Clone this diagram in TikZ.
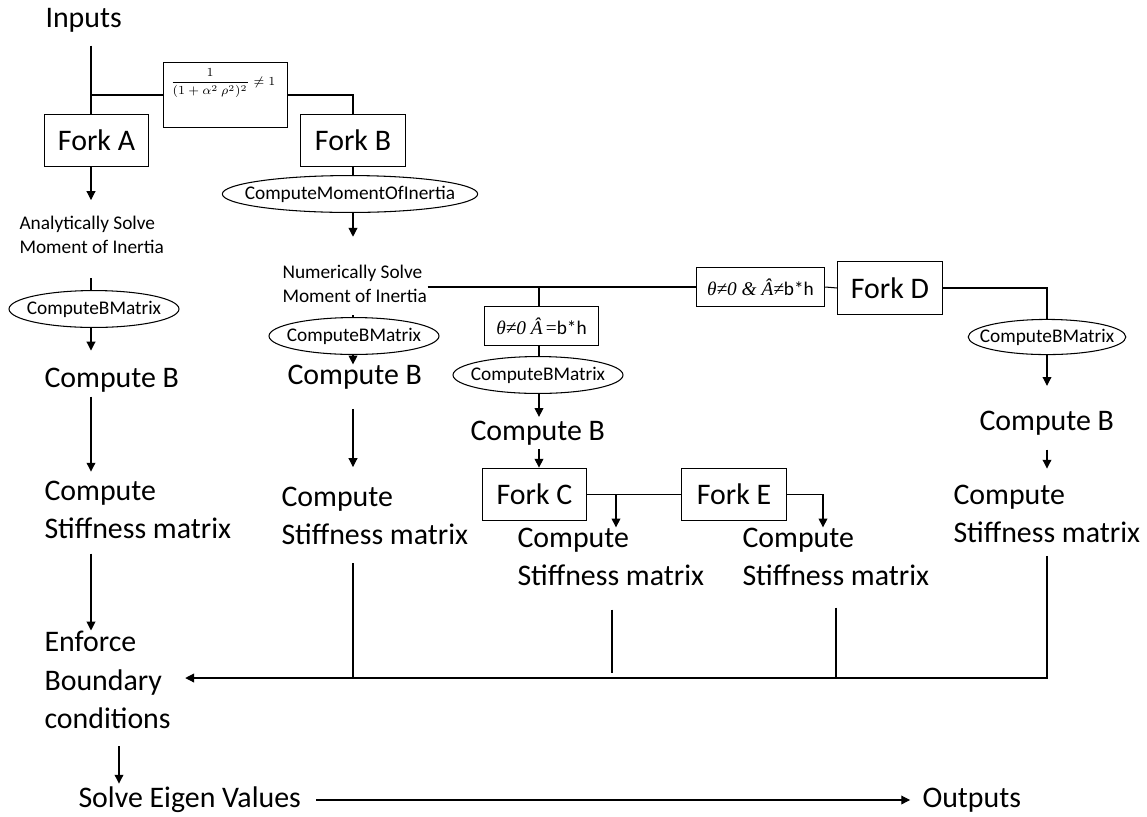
\documentclass[tikz,border=0pt]{standalone}
\usepackage{amsmath}
\usepackage{fontspec}
\setmainfont{Carlito}
\newfontfamily\condfont{Liberation Serif}
\usetikzlibrary{shapes.geometric,arrows.meta}
\tikzset{
  big/.style={font=\fontsize{17}{22}\selectfont, anchor=west, inner sep=0pt, align=left},
  small/.style={font=\fontsize{11}{13.5}\selectfont, anchor=west, inner sep=0pt, align=left},
  fork/.style={draw, font=\fontsize{17}{20}\selectfont, minimum width=59.5pt, minimum height=30pt, inner sep=0pt},
  cond/.style={draw, font=\fontsize{11}{13}\selectfont, minimum height=22.7pt, inner sep=0pt},
  call/.style={draw, ellipse, font=\fontsize{11}{13}\selectfont, minimum height=21pt, inner xsep=-4pt, inner ysep=0pt},
  arr/.style={-{Triangle[width=5pt,length=5pt]}},
}

\begin{document}
\begin{tikzpicture}[x=0.02cm,y=-0.02cm,line width=0.6pt]
\useasboundingbox (0,0) rectangle (1147,816);
\coordinate (colA) at (91,0);
\coordinate (colE) at (119,0);
\coordinate (colB) at (353,0);
\coordinate (colC) at (539,0);
\coordinate (brC) at (616,0);
\coordinate (dropC) at (612,0);
\coordinate (brE) at (823,0);
\coordinate (dropE) at (836,0);
\coordinate (colR) at (1047,0);
\coordinate (bus) at (0,678);

% top
\node[big] (inputs) at (45,20) {Inputs};
\node[cond, minimum width=70.9pt, minimum height=37.4pt] (cnd) at (225.5,95) {};
\node[inner sep=0pt, font=\fontsize{7}{8}\selectfont] (frac) at (223,83) {$\dfrac{1}{(1+\alpha^2\ \rho^2)^2}\neq 1$};
\node[fork] (forkA) at (96.5,140.5) {Fork A};
\node[fork] (forkB) at (353,140.5) {Fork B};
\draw[shorten <=7.4pt] (colA |- inputs.south) -- (colA |- forkA.north);
\draw (colA |- cnd.west) -- (cnd.west);
\draw (cnd.east) -| (forkB.north);

% fork A
\node[small] (anMoi) at (19,235) {Analytically Solve\\Moment of Inertia};
\node[call] (ellA) at (94,309) {ComputeBMatrix};
\node[big] (cbA) at (44,380) {Compute B};
\node[big] (ksA) at (44,510) {Compute\\Stiffness matrix};
\node[big] (enf) at (44,680) {Enforce\\Boundary\\conditions};
\node[big] (eig) at (78,800) {Solve Eigen Values};
\node[big] (out) at (922,800) {Outputs};
\draw[arr, shorten >=9pt] (colA |- forkA.south) -- (colA |- anMoi.north);
\draw[shorten <=13.6pt] (colA |- anMoi.south) -- (colA |- ellA.north);
\draw[arr, shorten >=9.6pt] (colA |- ellA.south) -- (colA |- cbA.north);
\draw[arr, shorten <=2.3pt, shorten >=5pt] (colA |- cbA.south) -- (colA |- ksA.north);
\draw[arr, shorten <=8pt] (colA |- ksA.south) -- (colA |- enf.north);
\draw[arr, shorten <=9.6pt, shorten >=1.7pt] (colE |- enf.south) -- (colE |- eig.north);
\draw[arr, shorten <=8.5pt, shorten >=6.8pt] (eig.east) -- (eig.east -| out.west);

% fork B
\node[call, inner xsep=-8.5pt] (ellMoi) at (350,194) {ComputeMomentOfInertia};
\node[small] (numN) at (282,284) {Numerically Solve\\Moment of Inertia};
\node[call] (ellB) at (354,336) {ComputeBMatrix};
\node[big] (cbB) at (287,377) {Compute B};
\node[big] (ksB) at (281,516) {Compute\\Stiffness matrix};
\draw (colB |- forkB.south) -- (colB |- ellMoi.north);
\draw[arr, shorten >=16pt] (colB |- ellMoi.south) -- (colB |- numN.north);
\draw[shorten <=7pt] (colB |- numN.south) -- (colB |- ellB.north);
\draw[arr] (colB |- ellB.south) -- (colB |- cbB.north);
\draw[arr, shorten <=11pt, shorten >=11pt] (colB |- cbB.south) -- (colB |- ksB.north);

% forks C, D, E
\node[cond, minimum width=73.1pt] (box2) at (760.5,287) {{\condfont\itshape θ≠0 \& Â≠}b*h};
\node[fork] (forkD) at (890,288) {Fork D};
\node[cond, minimum width=65.2pt] (box3) at (541.5,326) {{\condfont\itshape θ≠0 Â}\,{\condfont =}b*h};
\node[call] (ellC) at (538,375) {ComputeBMatrix};
\node[big] (cbC) at (470,433) {Compute B};
\node[fork] (forkC) at (534.5,494.5) {Fork C};
\node[fork] (forkE) at (734,494.5) {Fork E};
\node[big] (ksC) at (517,557) {Compute\\Stiffness matrix};
\node[big] (ksE) at (742,557) {Compute\\Stiffness matrix};
\node[call, inner xsep=-6.5pt, minimum height=20pt] (ellR) at (1047,337) {ComputeBMatrix};
\node[big] (cbR) at (979,423) {Compute B};
\node[big] (ksR) at (953,514) {Compute\\Stiffness matrix};
\draw (numN.east |- box2.west) -- (box2.west);
\draw (box2.east) -- (forkD.west);
\draw (colC |- box2.west) -- (colC |- box3.north);
\draw (colC |- box3.south) -- (colC |- ellC.north);
\draw[arr, shorten >=2pt] (colC |- ellC.south) -- (colC |- cbC.north);
\draw[arr, shorten <=2pt] (colC |- cbC.south) -- (colC |- forkC.north);
\draw (forkC.east) -- (forkE.west);
\draw[arr] (brC |- forkC.east) -- (brC |- ksC.north);
\draw[arr] (forkE.east) -| (brE |- ksE.north);
\draw (forkD.east) -| (colR |- ellR.north);
\draw[arr, shorten >=14pt] (colR |- ellR.south) -- (colR |- cbR.north);
\draw[arr, shorten <=8pt, shorten >=9pt] (colR |- cbR.south) -- (colR |- ksR.north);

% collect to boundary conditions
\draw[arr, shorten <=7pt, shorten >=8pt] (colR |- ksR.south) -- (colR |- bus) -- (enf.east |- bus);
\draw[shorten <=10pt] (colB |- ksB.south) -- (colB |- bus);
\draw[shorten <=13pt, shorten >=3pt] (dropC |- ksC.south) -- (dropC |- bus);
\draw[shorten <=12pt] (dropE |- ksE.south) -- (dropE |- bus);
\end{tikzpicture}
\end{document}
